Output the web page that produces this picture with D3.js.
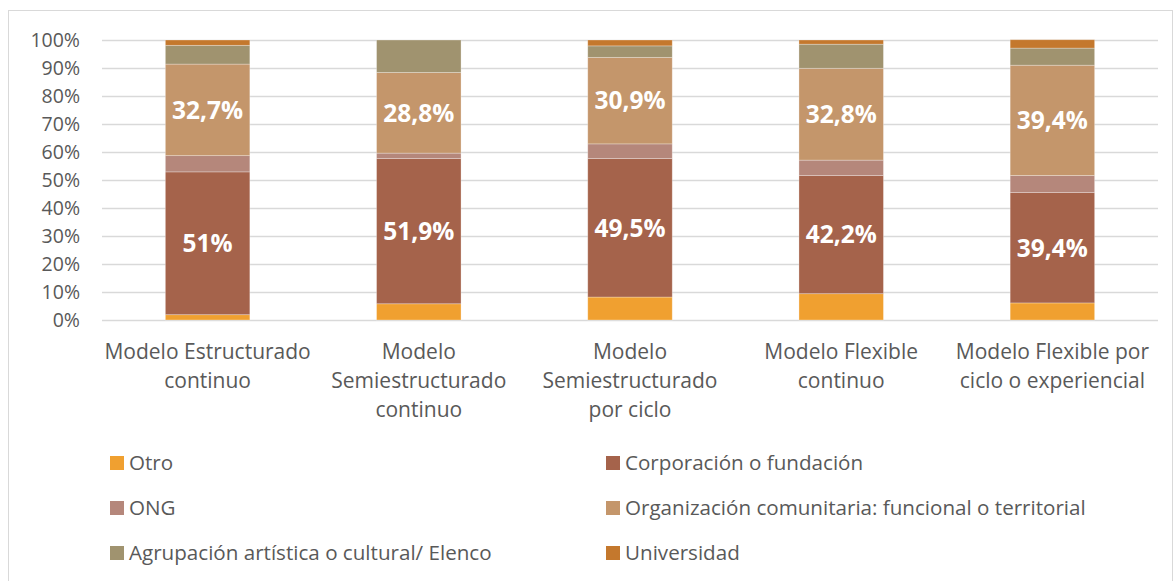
<!DOCTYPE html>
<html>
<head>
<meta charset="utf-8">
<script src="https://cdn.jsdelivr.net/npm/d3@7"></script>
<style>
  body { margin: 0; background: #fff; }
  text { font-family: "Open Sans", "Liberation Sans", sans-serif; }
</style>
</head>
<body>
<div id="chart"></div>
<script>
var svgWidth = 1174;
var svgHeight = 581;

// categories (x axis), split into lines as in the original
var categories = [
  ["Modelo Estructurado", "continuo"],
  ["Modelo", "Semiestructurado", "continuo"],
  ["Modelo", "Semiestructurado", "por ciclo"],
  ["Modelo Flexible", "continuo"],
  ["Modelo Flexible por", "ciclo o experiencial"]
];

var seriesNames = [
  "Otro",
  "Corporación o fundación",
  "ONG",
  "Organización comunitaria: funcional o territorial",
  "Agrupación artística o cultural/ Elenco",
  "Universidad"
];
var seriesColors = ["#F0A030", "#A5634B", "#B5877B", "#C4966B", "#A0936F", "#C4782D"];

// percentages per series, one value per category
var otro        = [1.9, 5.8, 8.2, 9.4, 6.1];
var corporacion = [51.0, 51.9, 49.5, 42.2, 39.4];
var ong         = [5.8, 1.9, 5.2, 5.5, 6.1];
var organizacion = [32.7, 28.8, 30.9, 32.8, 39.4];
var agrupacion  = [6.7, 11.6, 4.1, 8.6, 6.1];
var universidad = [1.9, 0, 2.1, 1.5, 3.0];

// labels shown on the bars
var corpLabels = ["51%", "51,9%", "49,5%", "42,2%", "39,4%"];
var orgLabels = ["32,7%", "28,8%", "30,9%", "32,8%", "39,4%"];

var yTicks = [0, 10, 20, 30, 40, 50, 60, 70, 80, 90, 100];

var allSeries = [otro, corporacion, ong, organizacion, agrupacion, universidad];

// table for d3.stack
var table = categories.map(function(c, i) {
  var row = { idx: i };
  seriesNames.forEach(function(s, j) { row[s] = allSeries[j][i]; });
  return row;
});

var margin = { top: 40, right: 16, bottom: 261, left: 102 };
var width = svgWidth - margin.left - margin.right;
var height = svgHeight - margin.top - margin.bottom;

var svg = d3.select("#chart")
  .append("svg")
  .attr("width", svgWidth)
  .attr("height", svgHeight);

// outer frame
svg.append("rect")
  .attr("x", 8.5).attr("y", 10.5)
  .attr("width", svgWidth - 10).attr("height", svgHeight)
  .attr("fill", "none")
  .attr("stroke", "#d9d9d9");

var chartGroup = svg.append("g")
  .attr("transform", `translate(${margin.left}, ${margin.top})`);

var x = d3.scaleBand()
  .domain(d3.range(categories.length))
  .range([0, width])
  .paddingInner(0.6)
  .paddingOuter(0.3);

var y = d3.scaleLinear()
  .domain([0, 100])
  .range([height, 0]);

// gridlines
chartGroup.append("g")
  .selectAll("line")
  .data(yTicks)
  .enter()
  .append("line")
  .attr("x1", 0)
  .attr("x2", width)
  .attr("y1", d => Math.round(y(d)) + 0.5)
  .attr("y2", d => Math.round(y(d)) + 0.5)
  .attr("stroke", "#d9d9d9")
  .attr("stroke-width", 1.3);

// y axis labels
var leftAxis = d3.axisLeft(y)
  .tickValues(yTicks)
  .tickFormat(d => d + "%")
  .tickSize(0)
  .tickPadding(22);

var yAxis = chartGroup.append("g").call(leftAxis);
yAxis.select(".domain").remove();
yAxis.selectAll("text")
  .attr("fill", "#595959")
  .style("font-size", "19.5px");

// stacked bars
var stack = d3.stack().keys(seriesNames);
var stacked = stack(table);

var layers = chartGroup.selectAll(".layer")
  .data(stacked)
  .enter()
  .append("g")
  .attr("class", "layer")
  .attr("fill", (d, i) => seriesColors[i]);

layers.selectAll("rect")
  .data(d => d)
  .enter()
  .append("rect")
  .attr("x", d => x(d.data.idx))
  .attr("width", x.bandwidth())
  .attr("y", d => y(d[1]))
  .attr("height", d => y(d[0]) - y(d[1]))
  .attr("stroke", "rgba(255,255,255,0.35)")
  .attr("stroke-width", 0.8);

// data labels
function addLabels(layerIndex, labels) {
  chartGroup.append("g")
    .selectAll("text")
    .data(stacked[layerIndex])
    .enter()
    .append("text")
    .attr("x", d => x(d.data.idx) + x.bandwidth() / 2)
    .attr("y", d => y((d[0] + d[1]) / 2))
    .attr("dy", "0.36em")
    .attr("text-anchor", "middle")
    .attr("fill", "#fff")
    .style("font-size", "24.5px")
    .style("font-weight", "bold")
    .text((d, i) => labels[i]);
}
addLabels(1, corpLabels);
addLabels(3, orgLabels);

// x axis category labels
var xLabels = chartGroup.append("g")
  .attr("transform", `translate(0, ${height})`);

categories.forEach(function(lines, i) {
  var t = xLabels.append("text")
    .attr("x", x(i) + x.bandwidth() / 2)
    .attr("y", 39)
    .attr("text-anchor", "middle")
    .attr("fill", "#595959")
    .style("font-size", "21px");
  lines.forEach(function(line, k) {
    t.append("tspan")
      .attr("x", x(i) + x.bandwidth() / 2)
      .attr("dy", k === 0 ? 0 : 29)
      .text(line);
  });
});

// legend, two columns
var legendCols = [110, 606];
var legendRows = [463, 508, 553];

var legend = svg.append("g");
seriesNames.forEach(function(name, i) {
  var lx = legendCols[i % 2];
  var ly = legendRows[Math.floor(i / 2)];
  legend.append("rect")
    .attr("x", lx)
    .attr("y", ly - 7)
    .attr("width", 14)
    .attr("height", 14)
    .attr("fill", seriesColors[i]);
  legend.append("text")
    .attr("x", lx + 19)
    .attr("y", ly)
    .attr("dy", "0.35em")
    .attr("fill", "#595959")
    .style("font-size", "20.6px")
    .text(name);
});
</script>
</body>
</html>
